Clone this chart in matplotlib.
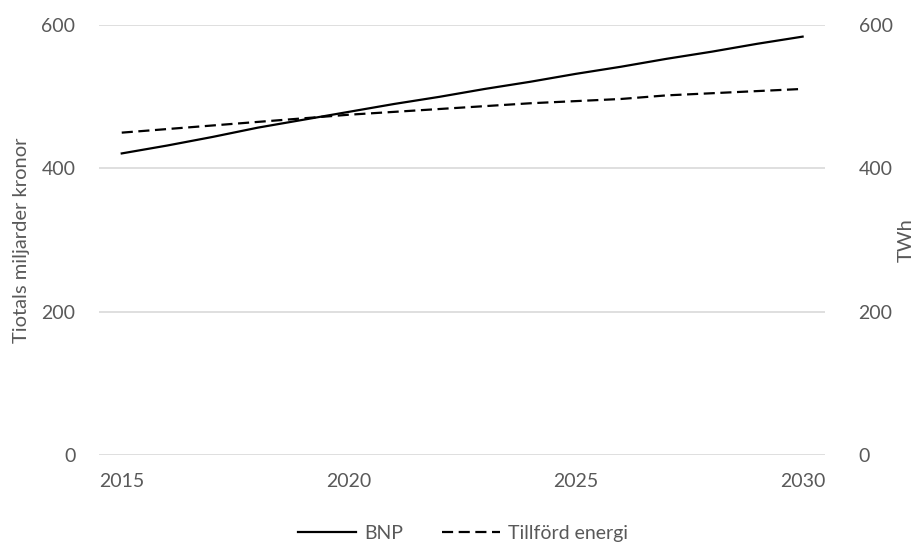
import matplotlib.pyplot as plt

plt.rcParams['font.family'] = ['Lato', 'DejaVu Sans']

# Yearly series, 2015-2030
years = list(range(2015, 2031))
bnp = [421, 432, 444, 457, 468, 479, 490, 500, 511, 521, 532, 542, 553, 563, 574, 584]
energi = [450, 455, 460, 465, 470, 475, 479, 483, 487, 491, 494, 497, 502, 505, 508, 511]

x_ticks = [2015, 2020, 2025, 2030]
y_ticks = [0, 200, 400, 600]

grey = '#595959'
grid_grey = '#d9d9d9'

fig = plt.figure(figsize=(9.17, 5.47), dpi=100, facecolor='white')
ax = fig.add_axes([0.108, 0.168, 0.792, 0.786])
ax2 = ax.twinx()

l1, = ax.plot(years, bnp, color='black', lw=1.6, label='BNP')
l2, = ax2.plot(years, energi, color='black', lw=1.6, linestyle=(0, (5, 2.5)),
               label='Tillförd energi')

for a in (ax, ax2):
    a.set_ylim(0, 600)
    a.set_yticks(y_ticks)
    a.set_xlim(2014.5, 2030.5)
    for s in a.spines.values():
        s.set_visible(False)
    a.tick_params(length=0, labelsize=14, colors=grey)

ax.set_xticks(x_ticks)
ax.tick_params(axis='y', pad=17)
ax.tick_params(axis='x', pad=13)
ax2.tick_params(axis='y', pad=24)
ax.grid(axis='y', color=grid_grey, lw=1.2)
ax.set_axisbelow(True)

ax.set_ylabel('Tiotals miljarder kronor', fontsize=14.5, color=grey, labelpad=8)
ax2.set_ylabel('TWh', fontsize=14.5, color=grey, labelpad=4)

fig.legend(handles=[l1, l2], loc='center', bbox_to_anchor=(0.505, 0.025),
           ncol=2, frameon=False, fontsize=14, labelcolor=grey,
           handlelength=3.0, columnspacing=2.0, handletextpad=0.4)

fig.savefig('out.png', dpi=100, facecolor='white')
